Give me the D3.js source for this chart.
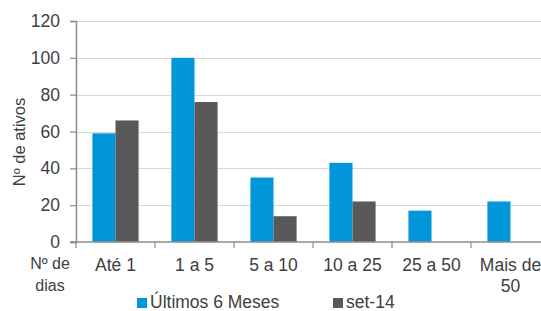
<!DOCTYPE html>
<html>
<head>
<meta charset="utf-8">
<script src="https://cdn.jsdelivr.net/npm/d3@7"></script>
<style>
  body { margin: 0; background: #fff; }
  svg { display: block; font-family: "Liberation Sans", Arial, sans-serif; }
</style>
</head>
<body>
<div id="chart"></div>
<script>
const categories = [["Até 1"], ["1 a 5"], ["5 a 10"], ["10 a 25"], ["25 a 50"], ["Mais de", "50"]]
const seriesNames = ["Últimos 6 Meses", "set-14"]
const ultimos6Meses = [59, 100, 35, 43, 17, 22]
const set14 = [66, 76, 14, 22, 0, 0]
const yTicks = [0, 20, 40, 60, 80, 100, 120]

const width = 541, height = 311
const colors = ["#0096d9", "#595959"]
const textColor = "#404040"

const svg = d3.select("#chart").append("svg")
  .attr("width", width)
  .attr("height", height)

const x0 = 76, xEnd = 550, yTop = 21, yBottom = 242

const x = d3.scaleBand()
  .domain(d3.range(categories.length))
  .range([x0, xEnd])

const xs = d3.scaleBand()
  .domain([0, 1])
  .range([0, x.bandwidth()])
  .paddingInner(0)
  .paddingOuter(0.71)

const y = d3.scaleLinear().domain([0, 120]).range([yBottom, yTop])

// gridlines
svg.append("g")
  .selectAll("line")
  .data(yTicks.filter(d => d > 0))
  .join("line")
  .attr("x1", x0).attr("x2", width)
  .attr("y1", d => Math.round(y(d)) + 0.5).attr("y2", d => Math.round(y(d)) + 0.5)
  .attr("stroke", "#d9d9d9")
  .attr("stroke-width", 1.2)

// bars
const rows = categories.map((c, i) => [ultimos6Meses[i], set14[i]])
svg.append("g")
  .selectAll("g")
  .data(rows)
  .join("g")
  .attr("transform", (d, i) => `translate(${x(i)},0)`)
  .selectAll("rect")
  .data(d => d.map((v, k) => ({ v, k })))
  .join("rect")
  .attr("x", d => xs(d.k))
  .attr("width", xs.bandwidth())
  .attr("y", d => y(d.v))
  .attr("height", d => y(0) - y(d.v))
  .attr("fill", d => colors[d.k])

// y axis
const yAxis = svg.append("g")
  .attr("transform", `translate(${x0},0)`)
  .call(d3.axisLeft(y).tickValues(yTicks).tickSize(6).tickPadding(10))
yAxis.select(".domain").attr("stroke", "#8c8c8c").attr("stroke-width", 1.5)
yAxis.selectAll(".tick line").attr("stroke", "#8c8c8c").attr("stroke-width", 1.2)
yAxis.selectAll(".tick text")
  .attr("fill", textColor)
  .style("font-size", "17.5px")

// x axis line + ticks
const xAxis = svg.append("g")
  .attr("transform", `translate(0,${yBottom})`)
xAxis.append("line")
  .attr("x1", x0 - 6).attr("x2", width)
  .attr("stroke", "#8c8c8c").attr("stroke-width", 1.5)
xAxis.selectAll("line.tick")
  .data(d3.range(categories.length + 1))
  .join("line")
  .attr("class", "tick")
  .attr("x1", i => x0 + i * x.step()).attr("x2", i => x0 + i * x.step())
  .attr("y1", 0).attr("y2", 6)
  .attr("stroke", "#8c8c8c").attr("stroke-width", 1.2)

xAxis.selectAll("text")
  .data(categories)
  .join("text")
  .attr("x", (d, i) => x(i) + x.bandwidth() / 2)
  .attr("y", 29)
  .attr("text-anchor", "middle")
  .attr("fill", textColor)
  .style("font-size", "17.5px")
  .selectAll("tspan")
  .data(d => d)
  .join("tspan")
  .attr("x", function () { return this.parentNode.getAttribute("x") })
  .attr("dy", (d, j) => j === 0 ? 0 : 21)
  .text(d => d)

// "Nº de dias"
svg.append("text")
  .attr("x", 50).attr("y", 269)
  .attr("text-anchor", "middle")
  .attr("fill", textColor)
  .style("font-size", "16px")
  .selectAll("tspan")
  .data(["Nº de", "dias"])
  .join("tspan")
  .attr("x", 50)
  .attr("dy", (d, j) => j === 0 ? 0 : 22)
  .text(d => d)

// y label
svg.append("text")
  .attr("transform", "translate(25,142) rotate(-90)")
  .attr("text-anchor", "middle")
  .attr("fill", textColor)
  .style("font-size", "16.5px")
  .text("Nº de ativos")

// legend
const legendX = [137, 333]
const legend = svg.append("g")
  .selectAll("g")
  .data(seriesNames)
  .join("g")
  .attr("transform", (d, i) => `translate(${legendX[i]},298)`)
legend.append("rect")
  .attr("width", 10).attr("height", 10)
  .attr("fill", (d, i) => colors[i])
legend.append("text")
  .attr("x", 13).attr("y", 10)
  .attr("fill", textColor)
  .style("font-size", "17.5px")
  .text(d => d)
</script>
</body>
</html>
